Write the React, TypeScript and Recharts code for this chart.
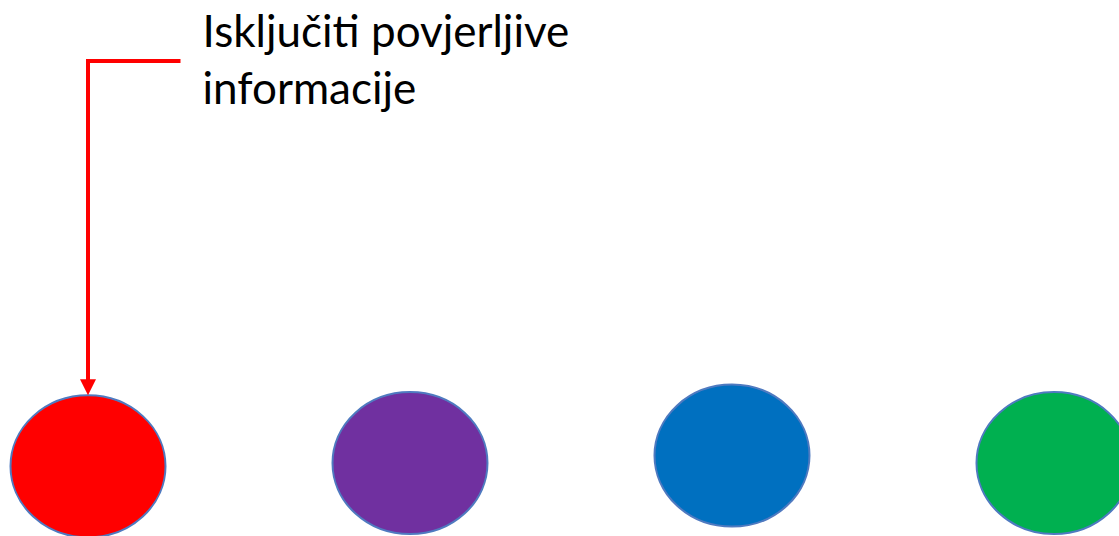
import React from "react";
import { ScatterChart, Scatter, XAxis, YAxis } from "recharts";

const categories = ["Crvena", "Ljubičasta", "Plava", "Zelena"];
const positions = [1, 2, 3, 4];
const levels = [13.0, 13.6, 15.0, 13.6];
const colors = ["#FF0000", "#7030A0", "#0070C0", "#00B050"];
const annotationLines = ["Isključiti povjerljive", "informacije"];
const annotatedIndex = 0;

const data = categories.map((name, i) => ({
  name,
  x: positions[i],
  y: levels[i],
  color: colors[i],
  annotated: i === annotatedIndex,
}));

const RX = 77.5;
const RY = 71;

const EllipseShape = (props: any) => {
  const { cx, cy, payload } = props;
  if (cx == null || cy == null) return null;
  const top = cy - RY;
  return (
    <g>
      <ellipse cx={cx} cy={cy} rx={RX} ry={RY} fill={payload.color} stroke="#4F7AC0" strokeWidth={2} />
      {payload.annotated && (
        <g>
          <path
            d={`M ${cx + 92.5} 61 L ${cx} 61 L ${cx} ${top - 15}`}
            fill="none"
            stroke="#FF0000"
            strokeWidth={4}
            strokeLinejoin="miter"
          />
          <path d={`M ${cx - 8} ${top - 16} L ${cx + 8} ${top - 16} L ${cx} ${top} Z`} fill="#FF0000" />
          <text x={cx + 114.5} y={47} fontFamily="Lato" fontSize={44} fill="#000000">
            {annotationLines[0]}
          </text>
          <text x={cx + 114.5} y={104} fontFamily="Lato" fontSize={44} fill="#000000">
            {annotationLines[1]}
          </text>
        </g>
      )}
    </g>
  );
};

export default function App() {
  return (
    <div style={{ position: "absolute", left: 0, top: 0, width: 1119, height: 536, background: "#ffffff" }}>
      <ScatterChart width={1119} height={536} margin={{ top: 0, right: 0, bottom: 0, left: 0 }}>
        <XAxis type="number" dataKey="x" hide domain={[0.7267, 4.2019]} allowDataOverflow />
        <YAxis type="number" dataKey="y" hide domain={[0, 100]} allowDataOverflow width={0} />
        <Scatter data={data} shape={EllipseShape} isAnimationActive={false} />
      </ScatterChart>
    </div>
  );
}
